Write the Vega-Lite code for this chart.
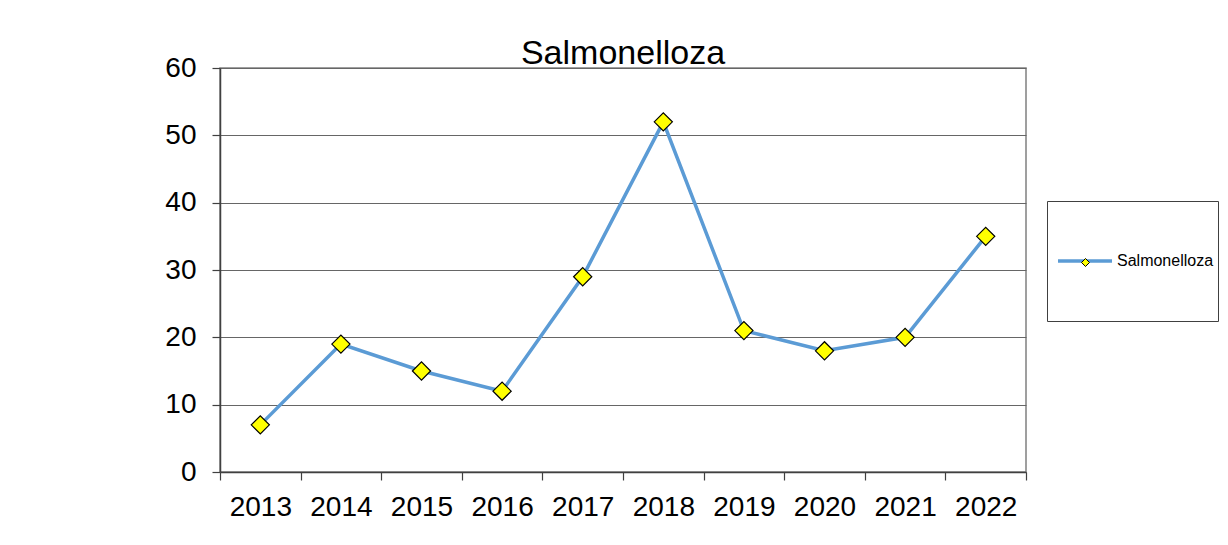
{
  "$schema": "https://vega.github.io/schema/vega-lite/v6.json",
  "width": 806,
  "height": 404,
  "autosize": {"type": "none"},
  "padding": {"left": 220, "top": 68, "right": 202, "bottom": 73},
  "background": "white",
  "title": {
    "text": "Salmonelloza",
    "fontSize": 34,
    "font": "Liberation Sans",
    "fontWeight": "normal",
    "anchor": "middle",
    "baseline": "alphabetic",
    "offset": -44,
    "color": "black"
  },
  "data": {
    "values": [
      {"year": "2013", "value": 7, "series": "Salmonelloza"},
      {"year": "2014", "value": 19, "series": "Salmonelloza"},
      {"year": "2015", "value": 15, "series": "Salmonelloza"},
      {"year": "2016", "value": 12, "series": "Salmonelloza"},
      {"year": "2017", "value": 29, "series": "Salmonelloza"},
      {"year": "2018", "value": 52, "series": "Salmonelloza"},
      {"year": "2019", "value": 21, "series": "Salmonelloza"},
      {"year": "2020", "value": 18, "series": "Salmonelloza"},
      {"year": "2021", "value": 20, "series": "Salmonelloza"},
      {"year": "2022", "value": 35, "series": "Salmonelloza"}
    ]
  },
  "encoding": {
    "x": {
      "field": "year",
      "type": "ordinal",
      "bandPosition": 0.5,
      "scale": {"type": "band", "paddingInner": 0, "paddingOuter": 0},
      "axis": {
        "title": null,
        "labelAngle": 0,
        "labelFontSize": 28,
        "labelFont": "Liberation Sans",
        "labelColor": "black",
        "labelPadding": 13,
        "tickBand": "extent",
        "tickSize": 8,
        "tickColor": "#404040",
        "tickWidth": 1.2,
        "domainColor": "#404040",
        "domainWidth": 1.5,
        "grid": false
      }
    },
    "y": {
      "field": "value",
      "type": "quantitative",
      "scale": {"domain": [0, 60], "nice": false},
      "axis": {
        "title": null,
        "values": [0, 10, 20, 30, 40, 50, 60],
        "labelFontSize": 28,
        "labelFont": "Liberation Sans",
        "labelColor": "black",
        "labelPadding": 16,
        "tickSize": 8,
        "tickColor": "#404040",
        "tickWidth": 1.2,
        "domainColor": "#404040",
        "domainWidth": 1.5,
        "grid": true,
        "gridColor": "#666666",
        "gridWidth": 1
      }
    }
  },
  "layer": [
    {
      "mark": {"type": "line", "strokeWidth": 3.5},
      "encoding": {
        "stroke": {
          "field": "series",
          "type": "nominal",
          "scale": {"range": ["#5B9BD5"]},
          "legend": {
            "orient": "none",
            "legendX": 827,
            "legendY": 133,
            "title": null,
            "symbolType": "stroke",
            "symbolSize": 2916,
            "symbolStrokeWidth": 3.5,
            "symbolOffset": 5,
            "labelOffset": 3,
            "labelFontSize": 16,
            "labelFont": "Liberation Sans",
            "labelColor": "black",
            "labelLimit": 300,
            "clipHeight": 112,
            "padding": 4,
            "strokeColor": "#404040",
            "fillColor": "white"
          }
        }
      }
    },
    {
      "mark": {"type": "point", "shape": "diamond", "filled": true, "size": 330, "stroke": "black", "strokeWidth": 1.2, "opacity": 1},
      "encoding": {
        "fill": {
          "field": "series",
          "type": "nominal",
          "scale": {"domain": ["Salmonelloza"], "range": ["#FFFF00"]},
          "legend": {
            "orient": "none",
            "legendX": 861,
            "legendY": 190,
            "title": null,
            "symbolType": "diamond",
            "symbolSize": 64,
            "symbolStrokeColor": "black",
            "symbolStrokeWidth": 1,
            "symbolOpacity": 1,
            "labelExpr": "''",
            "labelFontSize": 8,
            "padding": 0
          }
        }
      }
    }
  ],
  "config": {
    "view": {"stroke": "#808080", "strokeWidth": 1.5},
    "font": "Liberation Sans"
  }
}
